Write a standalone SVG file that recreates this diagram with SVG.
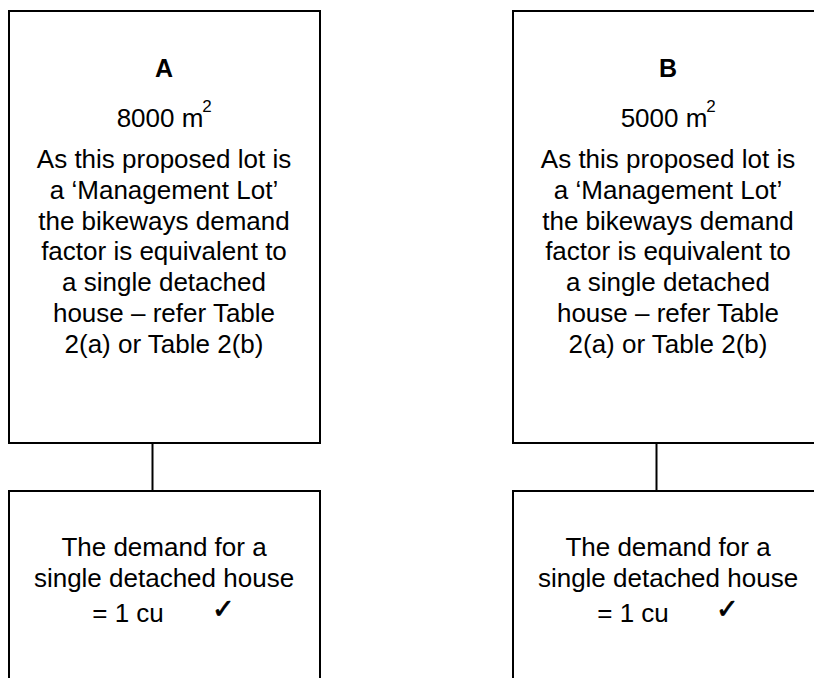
<svg xmlns="http://www.w3.org/2000/svg" width="814" height="678" viewBox="0 0 814 678">
<style>
.box{fill:#fff;stroke:#000;stroke-width:2}
.con{fill:none;stroke:#000;stroke-width:2}
text{font-family:"Liberation Sans",Arial,sans-serif;font-size:26px;fill:#000;text-anchor:middle}
.ttl{font-weight:bold;font-size:25px}
.sup{font-size:17px}
.chk{font-family:"DejaVu Sans",sans-serif;font-size:27px;text-anchor:start;stroke:#000;stroke-width:0.8}
</style>
<rect width="814" height="678" fill="#fff"/>
<g id="connectors">
<line class="con" x1="152.5" y1="443" x2="152.5" y2="491"/>
<line class="con" x1="656.5" y1="443" x2="656.5" y2="491"/>
</g>
<g id="nodeA">
<rect class="box" x="9" y="11" width="311" height="432"/>
<text class="ttl" x="164" y="77">A</text>
<text x="160" y="127">8000 m</text>
<text class="sup" x="207" y="112">2</text>
<text x="164" y="168">As this proposed lot is</text>
<text x="164" y="199">a ‘Management Lot’</text>
<text x="164" y="230">the bikeways demand</text>
<text x="164" y="260">factor is equivalent to</text>
<text x="164" y="291">a single detached</text>
<text x="164" y="322">house – refer Table</text>
<text x="164" y="353">2(a) or Table 2(b)</text>
</g>
<g id="nodeA2">
<rect class="box" x="9" y="491" width="311" height="200"/>
<text x="164" y="556">The demand for a</text>
<text x="164" y="587">single detached house</text>
<text x="128" y="622">= 1 cu</text>
<text class="chk" x="212" y="618">✓</text>
</g>
<g id="nodeB">
<rect class="box" x="513" y="11" width="311" height="432"/>
<text class="ttl" x="668" y="77">B</text>
<text x="664" y="127">5000 m</text>
<text class="sup" x="711" y="112">2</text>
<text x="668" y="168">As this proposed lot is</text>
<text x="668" y="199">a ‘Management Lot’</text>
<text x="668" y="230">the bikeways demand</text>
<text x="668" y="260">factor is equivalent to</text>
<text x="668" y="291">a single detached</text>
<text x="668" y="322">house – refer Table</text>
<text x="668" y="353">2(a) or Table 2(b)</text>
</g>
<g id="nodeB2">
<rect class="box" x="513" y="491" width="311" height="200"/>
<text x="668" y="556">The demand for a</text>
<text x="668" y="587">single detached house</text>
<text x="633" y="622">= 1 cu</text>
<text class="chk" x="716" y="618">✓</text>
</g>
</svg>
